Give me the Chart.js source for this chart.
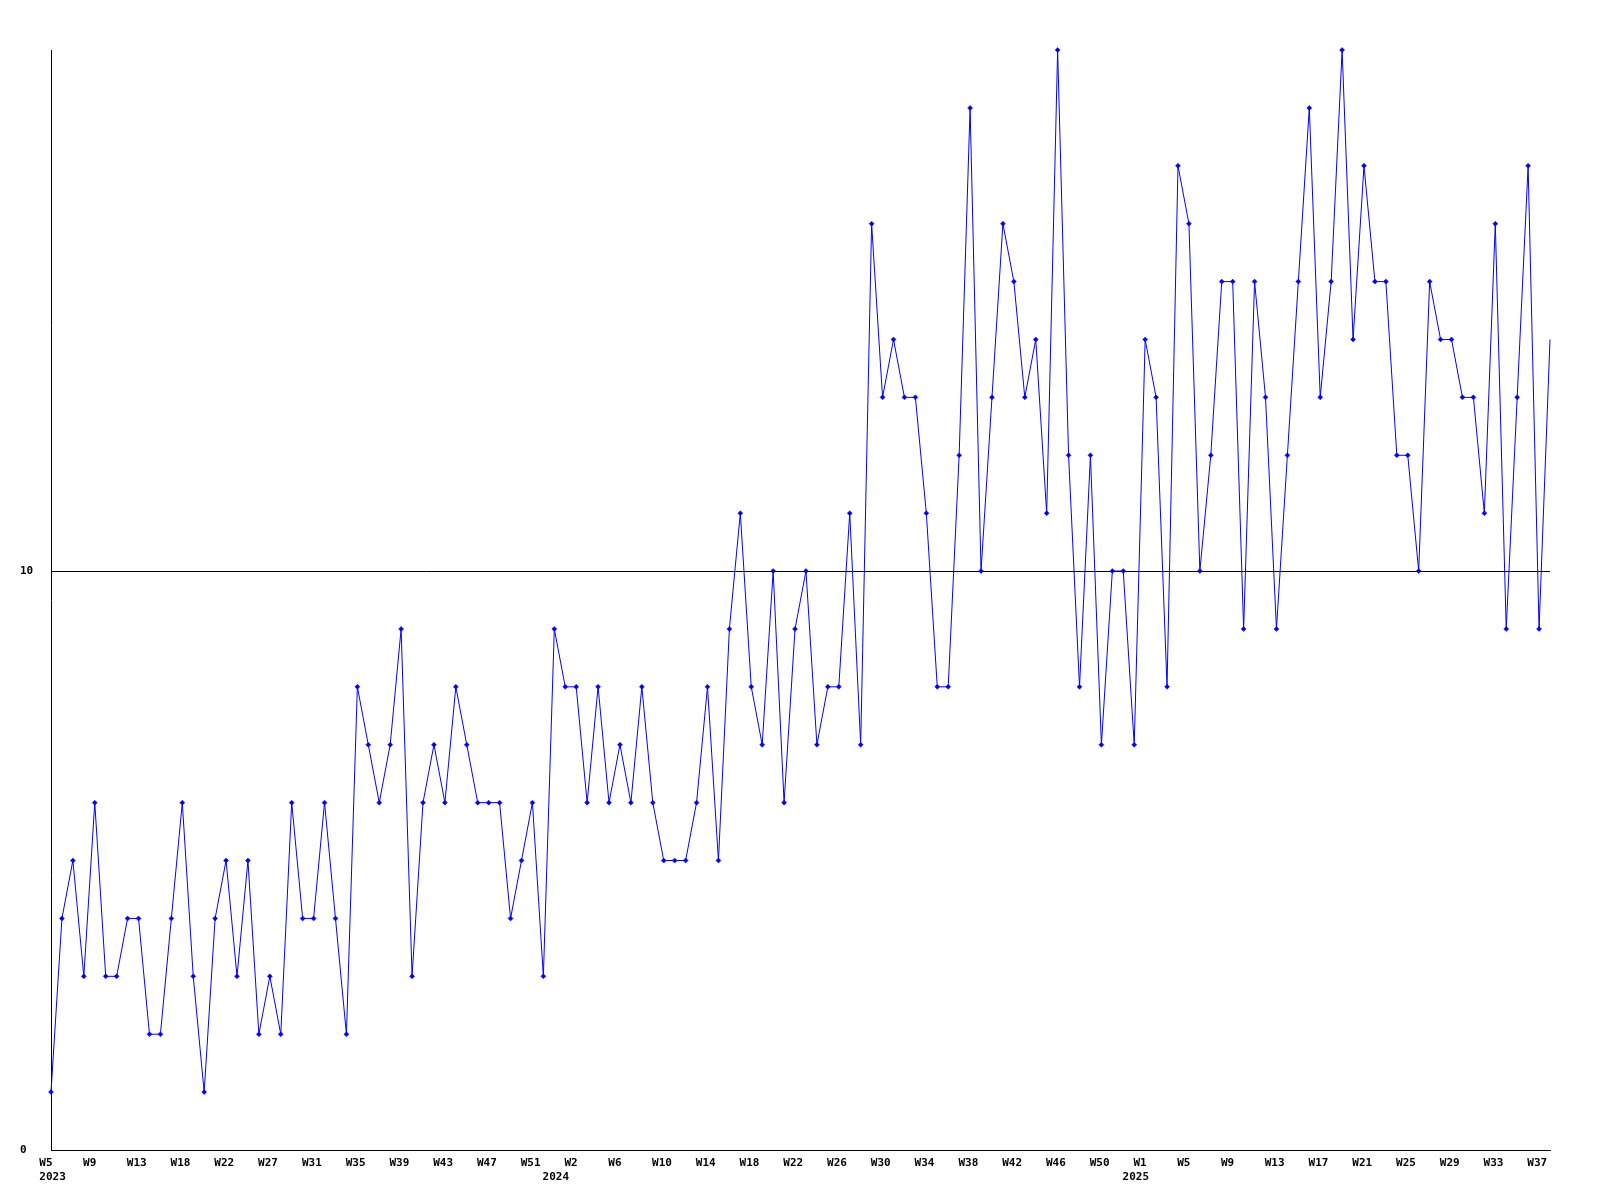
<!DOCTYPE html>
<html>
<head>
<meta charset="utf-8">
<script src="https://cdn.jsdelivr.net/npm/chart.js@4"></script>
<style>
    body { margin: 0; background: #ffffff; }
    #weeklyChart { display: block; }
</style>
</head>
<body>
<canvas id="weeklyChart" width="1600" height="1200"></canvas>
<script>
// one value per week, 2023 W5 .. 2025 W38
const weeklyCounts = [
    1, 4, 5, 3, 6, 3, 3, 4, 4, 2, 2, 4, 6, 3, 1, 4, 5, 3, 5, 2,
    3, 2, 6, 4, 4, 6, 4, 2, 8, 7, 6, 7, 9, 3, 6, 7, 6, 8, 7, 6,
    6, 6, 4, 5, 6, 3, 9, 8, 8, 6, 8, 6, 7, 6, 8, 6, 5, 5, 5, 6,
    8, 5, 9, 11, 8, 7, 10, 6, 9, 10, 7, 8, 8, 11, 7, 16, 13, 14, 13, 13,
    11, 8, 8, 12, 18, 10, 13, 16, 15, 13, 14, 11, 19, 12, 8, 12, 7, 10, 10, 7,
    14, 13, 8, 17, 16, 10, 12, 15, 15, 9, 15, 13, 9, 12, 15, 18, 13, 15, 19, 14,
    17, 15, 15, 12, 12, 10, 15, 14, 14, 13, 13, 11, 16, 9, 13, 17, 9, 14,
];

// a week label every 4th point
const weekTickLabels = [
    "W5", "W9", "W13", "W18", "W22", "W27", "W31", "W35", "W39", "W43", "W47", "W51",
    "W2", "W6", "W10", "W14", "W18", "W22", "W26", "W30", "W34", "W38", "W42", "W46", "W50",
    "W1", "W5", "W9", "W13", "W17", "W21", "W25", "W29", "W33", "W37",
];
const weekTickStep = 4;

const yearLabels = ["2023", "2024", "2025"];
const yearStartIndex = [0, 46, 99];

const yTickValues = [0, 10];

// labels start a bit left of their point
const labelShift = 1.07;

const axisFont = { family: "'DejaVu Sans Mono', monospace", size: 11, weight: "bold" };

function createWeeklyChart() {
    const points = weeklyCounts.map((v, i) => ({ x: i, y: v }));
    const lastIndex = weeklyCounts.length - 1;

    const ctx = document.getElementById("weeklyChart").getContext("2d");
    new Chart(ctx, {
        type: "line",
        data: {
            datasets: [
                {
                    data: points,
                    borderColor: "#0000ff",
                    borderWidth: 1,
                    tension: 0,
                    clip: false,
                    pointStyle: "rectRot",
                    pointRadius: (c) => (c.dataIndex === lastIndex ? 0 : 2.5),
                    pointBackgroundColor: "#0000ff",
                    pointBorderColor: "#0000ff",
                    pointBorderWidth: 0.5,
                },
            ],
        },
        options: {
            responsive: false,
            animation: false,
            events: [],
            layout: { padding: { left: 20, top: 50, right: 50, bottom: 10 } },
            plugins: {
                legend: { display: false },
                tooltip: { enabled: false },
            },
            scales: {
                x: {
                    type: "linear",
                    position: "bottom",
                    min: 0,
                    max: lastIndex,
                    afterBuildTicks: (scale) => {
                        scale.ticks = weekTickLabels.map((_, i) => ({
                            value: i * weekTickStep - labelShift,
                        }));
                    },
                    afterFit: (scale) => {
                        scale.height = 20;
                    },
                    ticks: {
                        autoSkip: false,
                        maxRotation: 0,
                        align: "start",
                        padding: 7,
                        color: "#000000",
                        font: axisFont,
                        callback: (value, index) => weekTickLabels[index],
                    },
                    grid: { display: false, drawTicks: false },
                    border: { display: true, color: "#000000", width: 1 },
                },
                x2: {
                    type: "linear",
                    position: "bottom",
                    min: 0,
                    max: lastIndex,
                    afterBuildTicks: (scale) => {
                        scale.ticks = yearStartIndex.map((idx) => ({ value: idx - labelShift }));
                    },
                    afterFit: (scale) => {
                        scale.height = 20;
                    },
                    ticks: {
                        autoSkip: false,
                        maxRotation: 0,
                        align: "start",
                        padding: 1,
                        color: "#000000",
                        font: axisFont,
                        callback: (value, index) => yearLabels[index],
                    },
                    grid: { display: false, drawTicks: false },
                    border: { display: false },
                },
                y: {
                    min: 0,
                    max: 19,
                    afterBuildTicks: (scale) => {
                        scale.ticks = yTickValues.map((v) => ({ value: v }));
                    },
                    afterFit: (scale) => {
                        scale.width = 31;
                    },
                    ticks: {
                        crossAlign: "far",
                        padding: 0,
                        color: "#000000",
                        font: axisFont,
                    },
                    grid: { color: "#000000", lineWidth: 1, drawTicks: false },
                    border: { display: true, color: "#000000", width: 1 },
                },
            },
        },
    });
}

createWeeklyChart();
</script>
</body>
</html>
